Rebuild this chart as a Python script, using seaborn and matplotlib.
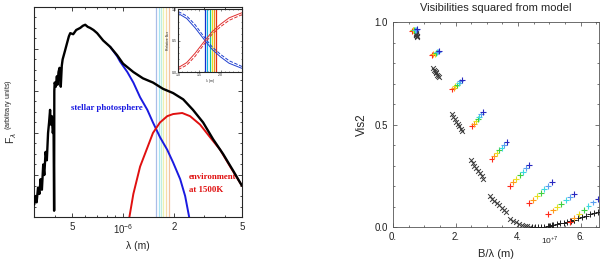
import numpy as np
import pandas as pd
import matplotlib
matplotlib.use("Agg")
import matplotlib.pyplot as plt
import seaborn as sns
from matplotlib.ticker import FixedLocator, MultipleLocator, NullFormatter

# ==========================================
# DATA - left panel (spectral energy distribution)
# ==========================================

total_wl = [3.00e-7, 3.05e-7, 3.10e-7, 3.16e-7, 3.22e-7, 3.27e-7, 3.33e-7, 3.39e-7,
            3.44e-7, 3.50e-7, 3.56e-7, 3.62e-7, 3.67e-7, 3.72e-7, 3.76e-7, 3.81e-7,
            3.86e-7, 3.90e-7, 3.93e-7, 3.94e-7, 3.96e-7, 4.02e-7, 4.08e-7, 4.12e-7,
            4.17e-7, 4.23e-7, 4.30e-7, 4.36e-7, 4.41e-7, 4.55e-7, 4.69e-7, 4.80e-7,
            4.89e-7, 5.09e-7, 5.30e-7, 5.60e-7, 5.80e-7, 5.99e-7, 6.20e-7, 6.40e-7,
            6.70e-7, 7.04e-7, 7.64e-7, 8.40e-7, 9.23e-7, 1.00e-6, 1.15e-6, 1.31e-6,
            1.50e-6, 1.72e-6, 1.97e-6, 2.26e-6, 2.58e-6, 2.96e-6, 3.39e-6, 3.88e-6,
            4.45e-6, 5.00e-6]
total_flux = [0.06, 0.10, 0.07, 0.14, 0.11, 0.18, 0.13, 0.25,
              0.20, 0.31, 0.27, 0.40, 0.45, 0.51, 0.44, 0.48,
              0.40, 0.43, 0.03, 0.60, 0.64, 0.62, 0.67, 0.63,
              0.69, 0.71, 0.62, 0.72, 0.75, 0.79, 0.83, 0.86,
              0.875, 0.87, 0.89, 0.90, 0.91, 0.915, 0.905, 0.90,
              0.89, 0.875, 0.84, 0.81, 0.77, 0.73, 0.69, 0.66,
              0.64, 0.61, 0.59, 0.56, 0.51, 0.45, 0.37, 0.30,
              0.22, 0.15]

star_wl = [8.40e-7, 9.23e-7, 9.60e-7, 1.06e-6, 1.15e-6, 1.26e-6, 1.39e-6, 1.50e-6,
           1.65e-6, 1.82e-6, 1.97e-6, 2.17e-6, 2.32e-6, 2.45e-6]
star_flux = [0.81, 0.765, 0.74, 0.69, 0.64, 0.57, 0.51, 0.45,
             0.38, 0.32, 0.26, 0.18, 0.10, 0.0]

env_wl = [1.09e-6, 1.15e-6, 1.26e-6, 1.39e-6, 1.50e-6, 1.65e-6, 1.82e-6, 1.97e-6,
          2.23e-6, 2.48e-6, 2.84e-6, 3.25e-6, 3.73e-6, 4.27e-6, 5.00e-6]
env_flux = [0.0, 0.11, 0.24, 0.33, 0.40, 0.45, 0.48, 0.49,
            0.495, 0.48, 0.44, 0.38, 0.32, 0.24, 0.15]

channel_wl = [1.57e-6, 1.62e-6, 1.67e-6, 1.73e-6, 1.79e-6, 1.87e-6]
channel_pale = ["#a9bde8", "#a8e4f2", "#bfeee0", "#eef2b0", "#f6dca8", "#f3c2a0"]
channel_solid = ["#1030d0", "#10b0e0", "#10c0a0", "#e0e020", "#f09020", "#e03010"]

# inset: relative contribution (star / environment)
inset_wl = [1.0, 1.2, 1.4, 1.63, 1.8, 2.0, 2.2, 2.5]
inset_star = [0.93, 0.85, 0.70, 0.50, 0.36, 0.24, 0.14, 0.06]
inset_star_b = [0.96, 0.89, 0.75, 0.54, 0.40, 0.28, 0.18, 0.09]
inset_env = [0.07, 0.15, 0.30, 0.50, 0.64, 0.76, 0.86, 0.94]
inset_env_b = [0.04, 0.11, 0.25, 0.46, 0.60, 0.72, 0.82, 0.91]
inset_chan = [1.63, 1.69, 1.74, 1.80, 1.84, 1.89]

# ==========================================
# DATA - right panel (visibilities, B/lambda in 1e7 m^-1)
# ==========================================

rainbow = ["#ff2a1a", "#ff9a1a", "#e8e020", "#40d040", "#3cd8e0", "#5aa0f0", "#2828c0"]

model_x = [
    [0.60, 0.63, 0.65, 0.68, 0.71, 0.73, 0.76],
    [1.26, 1.29, 1.33, 1.36, 1.40, 1.43, 1.47],
    [1.89, 1.94, 1.99, 2.04, 2.10, 2.15, 2.20],
    [2.53, 2.59, 2.65, 2.71, 2.76, 2.82, 2.88],
    [3.15, 3.23, 3.31, 3.39, 3.47, 3.55, 3.63],
    [3.73, 3.84, 3.94, 4.05, 4.15, 4.26, 4.36],
    [4.34, 4.47, 4.59, 4.72, 4.84, 4.97, 5.09],
    [4.97, 5.11, 5.24, 5.38, 5.52, 5.65, 5.79],
    [5.65, 5.80, 5.95, 6.10, 6.25, 6.40, 6.55],
]
model_y = [
    [0.958, 0.959, 0.960, 0.961, 0.962, 0.963, 0.964],
    [0.839, 0.842, 0.846, 0.849, 0.853, 0.856, 0.860],
    [0.671, 0.679, 0.687, 0.694, 0.702, 0.710, 0.717],
    [0.492, 0.503, 0.515, 0.526, 0.537, 0.549, 0.560],
    [0.332, 0.346, 0.360, 0.374, 0.387, 0.401, 0.415],
    [0.202, 0.219, 0.236, 0.253, 0.269, 0.286, 0.303],
    [0.117, 0.134, 0.151, 0.168, 0.184, 0.201, 0.218],
    [0.064, 0.081, 0.097, 0.114, 0.130, 0.147, 0.163],
    [0.025, 0.044, 0.063, 0.082, 0.101, 0.120, 0.139],
]

star_x = [
    [0.72, 0.73, 0.73, 0.74, 0.75, 0.76, 0.77, 0.78],
    [1.28, 1.31, 1.33, 1.36, 1.39, 1.42, 1.44, 1.47],
    [1.89, 1.93, 1.98, 2.02, 2.07, 2.11, 2.16, 2.20],
    [2.49, 2.55, 2.60, 2.66, 2.72, 2.78, 2.83, 2.89],
    [3.09, 3.17, 3.24, 3.32, 3.39, 3.47, 3.54, 3.62],
    [3.75, 3.84, 3.93, 4.02, 4.12, 4.21, 4.30, 4.39],
    [4.44, 4.54, 4.64, 4.74, 4.84, 4.94, 5.01, 5.09],
    [5.00, 5.11, 5.23, 5.34, 5.46, 5.57, 5.69, 5.80],
    [5.65, 5.78, 5.91, 6.04, 6.16, 6.29, 6.42, 6.55],
]
star_y = [
    [0.945, 0.943, 0.940, 0.938, 0.936, 0.933, 0.930, 0.928],
    [0.774, 0.768, 0.761, 0.755, 0.749, 0.743, 0.736, 0.730],
    [0.550, 0.538, 0.526, 0.514, 0.503, 0.491, 0.479, 0.467],
    [0.326, 0.313, 0.300, 0.287, 0.275, 0.262, 0.249, 0.236],
    [0.150, 0.138, 0.127, 0.116, 0.106, 0.095, 0.084, 0.073],
    [0.040, 0.032, 0.024, 0.017, 0.011, 0.006, 0.003, 0.002],
    [0.001, 0.000, 0.000, 0.001, 0.002, 0.004, 0.007, 0.010],
    [0.006, 0.010, 0.014, 0.018, 0.022, 0.027, 0.031, 0.035],
    [0.030, 0.036, 0.043, 0.049, 0.056, 0.062, 0.069, 0.075],
]

# ==========================================
# SETTINGS
# ==========================================

sns.set_style("ticks")
plt.rcParams["font.family"] = ["Liberation Sans", "DejaVu Sans"]
plt.rcParams["mathtext.fontset"] = "custom"
plt.rcParams["mathtext.rm"] = "Liberation Sans"
plt.rcParams["xtick.direction"] = "in"
plt.rcParams["ytick.direction"] = "in"

fig = plt.figure(figsize=(6.0, 2.65), dpi=100)

# ==========================================
# LEFT PANEL
# ==========================================

ax = fig.add_axes([0.057, 0.181, 0.346, 0.793])

for wl, c in zip(channel_wl, channel_pale):
    ax.axvline(wl, color=c, lw=0.9, zorder=1)

sns.lineplot(x=star_wl, y=star_flux, color="#1a1ae0", lw=1.4,
             sort=False, estimator=None, ax=ax, zorder=3)
sns.lineplot(x=env_wl, y=env_flux, color="#e01010", lw=1.4,
             sort=False, estimator=None, ax=ax, zorder=3)
sns.lineplot(x=total_wl, y=total_flux, color="#000000", lw=1.7,
             sort=False, estimator=None, ax=ax, zorder=4)

ax.set_xscale("log")
ax.set_xlim(3e-7, 5e-6)
ax.set_ylim(0, 1)
ax.xaxis.set_major_locator(FixedLocator([5e-7, 1e-6, 2e-6, 5e-6]))
ax.set_xticklabels(["5", r"10$^{-6}$", "2", "5"], fontsize=7)
ax.xaxis.set_minor_locator(FixedLocator([3e-7, 4e-7, 6e-7, 7e-7, 8e-7, 9e-7,
                                         3e-6, 4e-6]))
ax.xaxis.set_minor_formatter(NullFormatter())
ax.yaxis.set_major_locator(MultipleLocator(0.2))
ax.yaxis.set_minor_locator(MultipleLocator(0.05))
ax.set_yticklabels([])
ax.tick_params(which="both", top=True, right=True, length=3, width=0.6)
ax.tick_params(which="minor", length=1.5)
for s in ax.spines.values():
    s.set_linewidth(0.8)

ax.set_xlabel("λ (m)", fontsize=7.5)
ax.xaxis.set_label_coords(0.5, -0.112)
ax.set_ylabel(r"F$_\lambda$ $^{\rm (arbitrary\ units)}$", fontsize=7.5)
ax.yaxis.set_label_coords(-0.075, 0.5)

ax.text(4.95e-7, 0.52, "stellar photosphere", color="#1a1ae0", fontsize=6.3,
        fontweight="bold", family="Liberation Serif", va="center")
ax.text(2.45e-6, 0.19, "environment", color="#e01010", fontsize=6.3,
        fontweight="bold", family="Liberation Serif", va="center")
ax.text(2.45e-6, 0.13, "at 1500K", color="#e01010", fontsize=6.3,
        fontweight="bold", family="Liberation Serif", va="center")

# inset
ins = fig.add_axes([0.297, 0.728, 0.106, 0.238])
for wl, c in zip(inset_chan, channel_solid):
    ins.axvline(wl, color=c, lw=0.9)
sns.lineplot(x=inset_wl, y=inset_star, color="#2040d0", lw=0.7, ax=ins)
sns.lineplot(x=inset_wl, y=inset_star_b, color="#2040d0", lw=0.7, ls="--", ax=ins)
sns.lineplot(x=inset_wl, y=inset_env, color="#e03030", lw=0.7, ax=ins)
sns.lineplot(x=inset_wl, y=inset_env_b, color="#e03030", lw=0.7, ls="--", ax=ins)
ins.set_xlim(1.0, 2.5)
ins.set_ylim(0, 1)
ins.set_xticks([1.0, 1.5, 2.0])
ins.set_yticks([0, 0.5, 1.0])
ins.xaxis.set_minor_locator(MultipleLocator(0.1))
ins.yaxis.set_minor_locator(MultipleLocator(0.1))
ins.tick_params(which="both", labelsize=2.5, length=1.5, width=0.4, pad=1,
                top=True, right=True)
ins.tick_params(which="minor", length=0.8)
ins.set_xlabel("λ (m)", fontsize=2.5, labelpad=1)
ins.set_ylabel("Relative flux", fontsize=2.5, labelpad=1)
for s in ins.spines.values():
    s.set_linewidth(0.8)

# ==========================================
# RIGHT PANEL
# ==========================================

colored = pd.DataFrame({
    "x": [v for g in model_x for v in g],
    "y": [v for g in model_y for v in g],
    "channel": [i for g in model_x for i in range(len(g))],
})
stellar = pd.DataFrame({
    "x": [v for g in star_x for v in g],
    "y": [v for g in star_y for v in g],
    "group": [k for k, g in enumerate(star_x) for _ in g],
})

axr = fig.add_axes([0.655, 0.143, 0.343, 0.774])

sns.scatterplot(data=stellar[stellar["group"] < 6], x="x", y="y", marker="x",
                color="#3a3a3a", s=12, linewidth=0.7, ax=axr, zorder=3)
sns.scatterplot(data=stellar[stellar["group"] >= 6], x="x", y="y", marker="+",
                color="#202020", s=18, linewidth=0.7, ax=axr, zorder=3)
sns.scatterplot(data=colored, x="x", y="y", hue="channel", palette=rainbow,
                marker="+", s=18, linewidth=0.8, legend=False, ax=axr, zorder=4)

axr.set_xlim(0, 6.58)
axr.set_ylim(0, 1.0)
axr.set_xticks([0, 2, 4, 6])
axr.set_xticklabels(["0.", "2.", "4.", "6."], fontsize=7)
axr.set_yticks([0, 0.5, 1.0])
axr.set_yticklabels(["0.0", "0.5", "1.0"], fontsize=7)
axr.xaxis.set_minor_locator(MultipleLocator(0.5))
axr.yaxis.set_minor_locator(MultipleLocator(0.1))
axr.tick_params(which="both", top=True, right=True, length=3, width=0.5,
                color="#404040", labelcolor="#202020")
axr.tick_params(which="minor", length=1.5)
for s in axr.spines.values():
    s.set_linewidth(0.6)
    s.set_color("#555555")

axr.set_title("Visibilities squared from model", fontsize=8, pad=8)
axr.set_xlabel("B/λ (m)", fontsize=8)
axr.xaxis.set_label_coords(0.5, -0.105)
axr.set_ylabel("Vis2", fontsize=8.5)
axr.yaxis.set_label_coords(-0.12, 0.5)
fig.text(0.917, 0.094, r"10$^{+7}$", fontsize=6, ha="center", va="center")

fig.savefig("out.png", dpi=100)
